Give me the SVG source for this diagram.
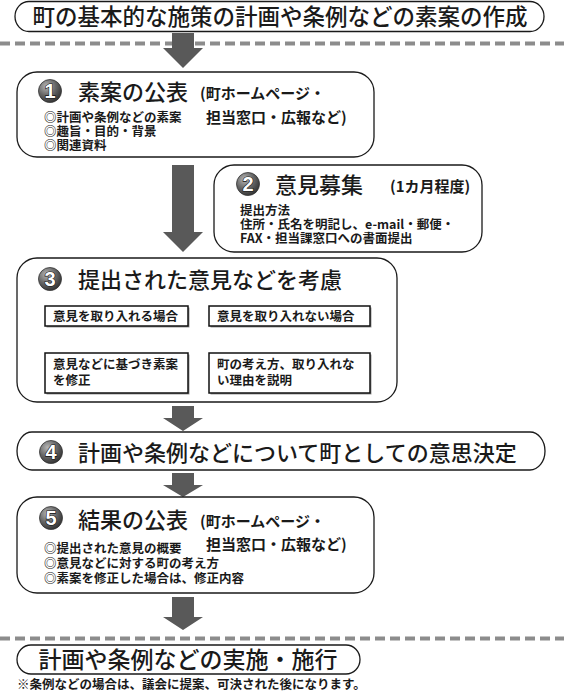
<svg xmlns="http://www.w3.org/2000/svg" width="564" height="694" viewBox="0 0 564 694">
<defs>
<radialGradient id="ball" cx="0.35" cy="0.3" r="0.8">
<stop offset="0" stop-color="#b5b5b5"/>
<stop offset="0.5" stop-color="#666"/>
<stop offset="1" stop-color="#2a2a2a"/>
</radialGradient>
</defs>
<style>
text{font-family:"Noto Sans CJK JP","Noto Sans",sans-serif;fill:#1a1a1a}
.box{fill:#fff;stroke:#1a1a1a;stroke-width:1.3}
.ibox{fill:#fff;stroke:#111;stroke-width:1.5}
.shadow{fill:#9a9a9a}
.arrow{fill:#595959}
.dash{stroke:#8c8c8c;stroke-width:4;stroke-dasharray:10 5;fill:none}
.big{font-size:22px;font-weight:500}
.sub{font-size:15px;font-weight:bold}
.sm{font-size:12.5px;font-weight:bold}
.ball{fill:url(#ball);stroke:#333;stroke-width:0.8}
.num{font-family:"Liberation Sans",Arial,sans-serif;font-size:20px;font-weight:bold;fill:#ffffff;stroke:#111;stroke-width:1.2;paint-order:stroke;text-anchor:middle}
</style>

<g id="dividers">
<line class="dash" x1="0" y1="43.5" x2="564" y2="43.5"/>
<line class="dash" x1="0" y1="638.5" x2="564" y2="638.5"/>
</g>

<g id="start">
<rect class="box" x="15" y="1.5" width="529" height="30" rx="14" ry="15"/>
<text x="280" y="25" style="font-size:22.5px;font-weight:500" text-anchor="middle">町の基本的な施策の計画や条例などの素案の作成</text>
</g>

<g id="connectors">
<polygon class="arrow" points="172,33 194,33 194,48 203,48 183,68 163,48 172,48"/>
<polygon class="arrow" points="172,165 194,165 194,232 203,232 183,252 163,232 172,232"/>
<polygon class="arrow" points="106,328 128,328 128,338 138,338 117,352 96,338 106,338"/>
<polygon class="arrow" points="279,328 301,328 301,338 311,338 290,352 269,338 279,338"/>
<polygon class="arrow" points="172,406 194,406 194,418 203,418 183,431 163,418 172,418"/>
<polygon class="arrow" points="172,473 194,473 194,485 203,485 183,497 163,485 172,485"/>
<polygon class="arrow" points="172,597 194,597 194,617 203,617 183,630 163,617 172,617"/>
</g>

<g id="step1">
<rect class="box" x="17" y="72" width="357" height="85" rx="20"/>
<circle class="ball" cx="50" cy="91" r="11.5"/>
<text class="num" x="50" y="98">1</text>
<text class="big" x="78" y="100">素案の公表</text>
<text class="sub" x="200" y="99">(町ホームページ・</text>
<text class="sub" x="206" y="123">担当窓口・広報など)</text>
<text class="sm" x="44" y="122">◎計画や条例などの素案</text>
<text class="sm" x="44" y="136">◎趣旨・目的・背景</text>
<text class="sm" x="44" y="150">◎関連資料</text>
</g>

<g id="step2">
<rect class="box" x="214" y="165" width="268" height="87" rx="20"/>
<circle class="ball" cx="248" cy="184" r="11.5"/>
<text class="num" x="248" y="191">2</text>
<text class="big" x="275" y="193">意見募集</text>
<text class="sub" x="390" y="192">(1カ月程度)</text>
<text class="sm" x="240" y="215">提出方法</text>
<text class="sm" x="240" y="229">住所・氏名を明記し、e-mail・郵便・</text>
<text class="sm" x="240" y="243">FAX・担当課窓口への書面提出</text>
</g>

<g id="step3">
<rect class="box" x="17" y="258" width="380" height="144" rx="20"/>
<circle class="ball" cx="50" cy="279" r="11.5"/>
<text class="num" x="50" y="286">3</text>
<text class="big" x="78" y="288">提出された意見などを考慮</text>
</g>

<g id="case-accept">
<rect class="shadow" x="46.5" y="307.5" width="143" height="20"/>
<rect class="ibox" x="45" y="306" width="143" height="20"/>
<text class="sm" x="53" y="321">意見を取り入れる場合</text>
</g>
<g id="case-reject">
<rect class="shadow" x="210.5" y="307.5" width="161" height="20"/>
<rect class="ibox" x="209" y="306" width="161" height="20"/>
<text class="sm" x="217" y="321">意見を取り入れない場合</text>
</g>
<g id="result-accept">
<rect class="shadow" x="46.5" y="354.5" width="143" height="40"/>
<rect class="ibox" x="45" y="353" width="143" height="40"/>
<text class="sm" x="53" y="369">意見などに基づき素案</text>
<text class="sm" x="53" y="385">を修正</text>
</g>
<g id="result-reject">
<rect class="shadow" x="210.5" y="354.5" width="161" height="40"/>
<rect class="ibox" x="209" y="353" width="161" height="40"/>
<text class="sm" x="217" y="369">町の考え方、取り入れな</text>
<text class="sm" x="217" y="385">い理由を説明</text>
</g>

<g id="step4">
<rect class="box" x="17" y="432" width="528" height="38" rx="15" ry="19"/>
<circle class="ball" cx="51" cy="452" r="11.5"/>
<text class="num" x="51" y="459">4</text>
<text class="big" x="78" y="461">計画や条例などについて町としての意思決定</text>
</g>

<g id="step5">
<rect class="box" x="17" y="497" width="357" height="96" rx="20"/>
<circle class="ball" cx="51" cy="518" r="11.5"/>
<text class="num" x="51" y="525">5</text>
<text class="big" x="78" y="528">結果の公表</text>
<text class="sub" x="200" y="527">(町ホームページ・</text>
<text class="sub" x="206" y="550">担当窓口・広報など)</text>
<text class="sm" x="44" y="553">◎提出された意見の概要</text>
<text class="sm" x="44" y="568">◎意見などに対する町の考え方</text>
<text class="sm" x="44" y="583">◎素案を修正した場合は、修正内容</text>
</g>

<g id="end">
<rect class="box" x="17" y="645" width="343" height="29" rx="14" ry="14.5"/>
<text x="188" y="668" style="font-size:23px;font-weight:500" text-anchor="middle">計画や条例などの実施・施行</text>
</g>

<g id="note">
<text class="sm" x="17" y="689">※条例などの場合は、議会に提案、可決された後になります。</text>
</g>
</svg>
